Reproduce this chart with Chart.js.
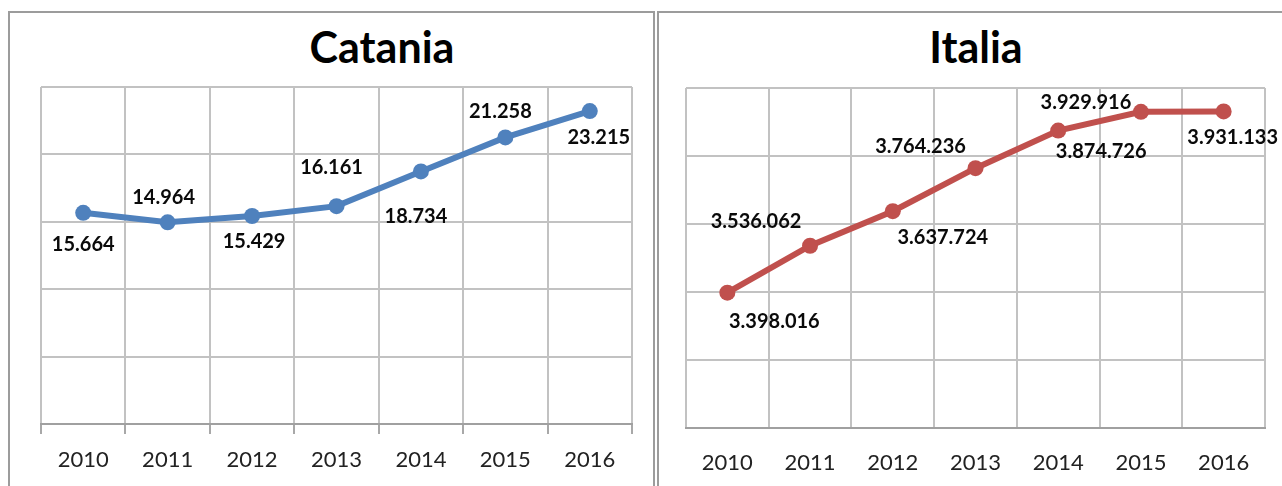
<!DOCTYPE html>
<html>
<head>
<meta charset="utf-8">
<script src="https://cdn.jsdelivr.net/npm/chart.js@4.4.1/dist/chart.umd.min.js"></script>
<style>
html,body{margin:0;padding:0;background:#fff;width:1282px;height:486px;overflow:hidden;}
.frame{position:absolute;box-sizing:border-box;border:2px solid #9c9c9c;border-bottom:none;}
#f1{left:8px;top:11px;width:647px;height:480px;}
#f2{left:657px;top:11px;width:640px;height:480px;border-right:none;}
.title{position:absolute;font-family:Lato,'DejaVu Sans',sans-serif;font-weight:bold;font-size:43px;line-height:43px;height:43px;text-align:center;color:#000;width:300px;top:25px;}
canvas{position:absolute;}
</style>
</head>
<body>
<div class="frame" id="f1"></div>
<div class="frame" id="f2"></div>
<div class="title" style="left:232px">Catania</div>
<div class="title" style="left:826px">Italia</div>
<canvas id="c1" width="644" height="473" style="left:10px;top:13px;width:644px;height:473px"></canvas>
<canvas id="c2" width="623" height="473" style="left:659px;top:13px;width:623px;height:473px"></canvas>
<script>
// ---- data ----
const years = ['2010', '2011', '2012', '2013', '2014', '2015', '2016'];
const cataniaValues = [15664, 14964, 15429, 16161, 18734, 21258, 23215];
const italiaValues = [3398016, 3536062, 3637724, 3764236, 3874726, 3929916, 3931133];
const cataniaYTicks = [0, 5000, 10000, 15000, 20000, 25000];
const italiaYTicks = [3000000, 3200000, 3400000, 3600000, 3800000, 4000000];

// ---- label placement (style, pixels relative to point) ----
const cataniaLabelOffsets = [[0,32],[-4,-25],[2,26],[-5,-39],[-5,45],[-5,-26],[9,26]];
const italiaLabelOffsets = [[47,29],[-54,-24],[50,26],[-55,-22],[43,21],[-55,-9],[9,26]];

function fmtIt(v){ return String(v).replace(/\B(?=(\d{3})+(?!\d))/g, '.'); }

const pointLabels = {
  id: 'pointLabels',
  afterDatasetsDraw(chart, args, opts){
    const ctx = chart.ctx;
    const meta = chart.getDatasetMeta(0);
    const data = chart.data.datasets[0].data;
    ctx.save();
    ctx.font = 'bold 20px Lato, "DejaVu Sans", sans-serif';
    ctx.fillStyle = '#0a0a0a';
    ctx.textAlign = 'center';
    ctx.textBaseline = 'middle';
    meta.data.forEach((pt, i) => {
      const off = opts.offsets[i];
      ctx.fillText(fmtIt(data[i]), pt.x + off[0], pt.y + off[1]);
    });
    ctx.restore();
  }
};

function makeChart(id, values, yTicks, color, offsets, pad, xHeight, drawTicks, tickPad){
  const step = yTicks[1] - yTicks[0];
  return new Chart(document.getElementById(id), {
    type: 'line',
    data: {
      labels: years,
      datasets: [{
        data: values,
        borderColor: color,
        backgroundColor: color,
        borderWidth: 6,
        pointRadius: 8,
        pointHoverRadius: 8,
        pointBorderWidth: 0,
        pointBackgroundColor: color,
        tension: 0,
        clip: false
      }]
    },
    options: {
      responsive: false,
      animation: false,
      events: [],
      layout: { padding: pad },
      plugins: {
        legend: { display: false },
        title: { display: false },
        tooltip: { enabled: false },
        pointLabels: { offsets: offsets }
      },
      scales: {
        x: {
          offset: true,
          grid: { offset: true, color: '#c2c2c2', lineWidth: 2, drawTicks: drawTicks, tickLength: 10, tickColor: '#a8a8a8' },
          border: { color: '#a0a0a0', width: 2 },
          ticks: { color: '#222', padding: tickPad, font: { family: 'Lato, "DejaVu Sans", sans-serif', size: 22 } },
          afterFit(scale){ scale.height = xHeight; }
        },
        y: {
          min: yTicks[0],
          max: yTicks[yTicks.length - 1],
          ticks: { display: false, stepSize: step },
          grid: { color: '#c2c2c2', lineWidth: 2, drawTicks: false },
          border: { display: false },
          afterFit(scale){ scale.width = 0; }
        }
      }
    },
    plugins: [pointLabels]
  });
}

makeChart('c1', cataniaValues, cataniaYTicks, '#4F81BD', cataniaLabelOffsets,
  { left: 31, right: 22, top: 74, bottom: 0 }, 62, true, 13);
makeChart('c2', italiaValues, italiaYTicks, '#C0504D', italiaLabelOffsets,
  { left: 27, right: 17, top: 75, bottom: 0 }, 58, false, 22);
</script>
</body>
</html>
